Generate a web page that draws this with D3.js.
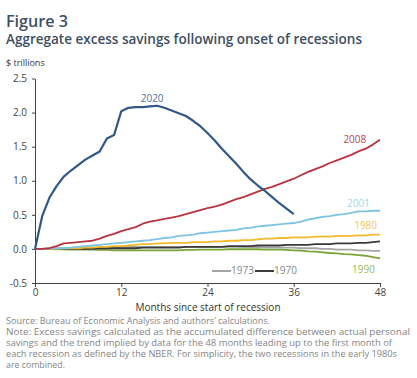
<!DOCTYPE html>
<html><head><meta charset="utf-8">
<script src="https://cdn.jsdelivr.net/npm/d3@7"></script>
<style>
html,body{margin:0;padding:0;background:#fff;}
svg{display:block;}
text{font-family:"Open Sans",Lato,sans-serif;}
</style></head>
<body>
<svg id="chart" width="417" height="378"></svg>
<script>
const months = d3.range(0, 49);
const yTicks = [-0.5, 0, 0.5, 1.0, 1.5, 2.0, 2.5];
const xTicks = [0, 12, 24, 36, 48];

const s2020 = [0,0.48,0.75,0.92,1.06,1.15,1.23,1.31,1.37,1.43,1.62,1.67,2.02,2.07,2.08,2.08,2.09,2.10,2.07,2.03,1.99,1.95,1.88,1.80,1.70,1.59,1.47,1.36,1.25,1.13,1.02,0.93,0.85,0.76,0.67,0.59,0.51];
const s2008 = [0,0,0.01,0.04,0.08,0.09,0.10,0.11,0.12,0.15,0.19,0.22,0.26,0.29,0.32,0.37,0.40,0.42,0.44,0.46,0.48,0.51,0.54,0.57,0.60,0.62,0.65,0.69,0.73,0.76,0.80,0.84,0.88,0.91,0.95,0.99,1.03,1.08,1.13,1.17,1.21,1.26,1.30,1.34,1.38,1.43,1.47,1.53,1.60];
const s2001 = [0,0,0,0.01,0.01,0.02,0.03,0.04,0.05,0.06,0.07,0.08,0.09,0.10,0.11,0.12,0.13,0.145,0.16,0.17,0.19,0.20,0.21,0.23,0.24,0.25,0.26,0.27,0.28,0.30,0.31,0.33,0.34,0.35,0.36,0.37,0.38,0.40,0.43,0.45,0.47,0.48,0.50,0.51,0.53,0.55,0.55,0.56,0.56];
const s1980 = [0,0,0,0,0.01,0.01,0.01,0.02,0.02,0.03,0.03,0.04,0.04,0.05,0.06,0.07,0.07,0.08,0.08,0.09,0.09,0.09,0.10,0.10,0.10,0.11,0.11,0.12,0.12,0.13,0.13,0.14,0.15,0.15,0.16,0.16,0.17,0.17,0.17,0.18,0.18,0.18,0.19,0.19,0.19,0.20,0.20,0.21,0.21];
const s1973 = [0,0,0.01,0.01,0.01,0.01,0.01,0.02,0.02,0.02,0.02,0.02,0.03,0.03,0.03,0.03,0.03,0.03,0.03,0.03,0.03,0.03,0.03,0.03,0.03,0.03,0.03,0.03,0.03,0.025,0.025,0.025,0.02,0.02,0.02,0.02,0.02,0.01,0.01,0.01,0.0,0.0,-0.01,-0.01,-0.01,-0.02,-0.02,-0.03,-0.03];
const s1970 = [0,0,0,0,0,0,0,0,0,0.01,0.01,0.01,0.01,0.01,0.01,0.02,0.02,0.02,0.02,0.02,0.02,0.03,0.03,0.03,0.03,0.03,0.03,0.04,0.04,0.04,0.04,0.05,0.05,0.05,0.05,0.06,0.06,0.06,0.06,0.07,0.07,0.07,0.08,0.08,0.08,0.09,0.09,0.10,0.11];
const s1990 = [0,0,0,-0.005,-0.005,-0.01,-0.01,-0.01,-0.01,-0.015,-0.015,-0.02,-0.02,-0.02,-0.02,-0.02,-0.02,-0.02,-0.02,-0.02,-0.02,-0.015,-0.015,-0.01,-0.01,-0.01,-0.01,-0.005,-0.005,-0.005,-0.005,-0.005,-0.01,-0.01,-0.01,-0.015,-0.02,-0.025,-0.035,-0.04,-0.05,-0.06,-0.065,-0.075,-0.08,-0.09,-0.10,-0.12,-0.14];

const seriesNames = ["1973","1990","1970","1980","2001","2008","2020"];
const seriesValues = [s1973, s1990, s1970, s1980, s2001, s2008, s2020];
const lineColors = {"2020":"#2f5888","2008":"#b8343f","2001":"#7cc4e0","1980":"#f4b92c","1970":"#3a3a3a","1973":"#a5a5a5","1990":"#7aa437"};
const labelColors = {"2020":"#4e729c","2008":"#c04450","2001":"#a3d6ec","1980":"#f4c55a","1990":"#97b959"};

const svg = d3.select("#chart");
const x = d3.scaleLinear().domain([0, 48]).range([35, 380]);
const y = d3.scaleLinear().domain([-0.5, 2.5]).range([283, 78.5]);

function fitText(sel, target) {
  const w = sel.node().getComputedTextLength();
  const fs = parseFloat(sel.attr("font-size"));
  sel.attr("font-size", (fs * target / w).toFixed(2));
}

// Titles
svg.append("text").attr("x", 6).attr("y", 27).attr("font-size", 15).attr("font-weight", 600)
  .attr("fill", "#3e4e64").text("Figure 3").call(s => fitText(s, 62));
svg.append("text").attr("x", 6).attr("y", 44).attr("font-size", 15).attr("font-weight", 600)
  .attr("fill", "#3e4e64").text("Aggregate excess savings following onset of recessions").call(s => fitText(s, 356));
svg.append("text").attr("x", 6).attr("y", 66).attr("font-size", 9).attr("fill", "#333").text("$ trillions");

// Axes
const fmt = v => (v < 0 ? "-" : "") + Math.abs(v).toFixed(1);
const yAxis = svg.append("g").attr("transform", "translate(35,0)")
  .call(d3.axisLeft(y).tickValues(yTicks).tickFormat(fmt).tickSize(3).tickSizeOuter(0).tickPadding(5));
const xAxis = svg.append("g").attr("transform", "translate(0,283)")
  .call(d3.axisBottom(x).tickValues(xTicks).tickFormat(d3.format("d")).tickSize(4).tickSizeOuter(0).tickPadding(2));
[yAxis, xAxis].forEach(a => {
  a.selectAll("path,line").attr("stroke", "#444").attr("stroke-width", 1);
  a.selectAll("text").attr("fill", "#444").attr("font-size", 10).attr("font-family", "\"Open Sans\",sans-serif");
});

svg.append("text").attr("x", 208).attr("y", 311).attr("text-anchor", "middle")
  .attr("font-size", 10).attr("fill", "#333").text("Months since start of recession");

// Lines
const line = d3.line().x((d, i) => x(months[i])).y(d => y(d));
seriesNames.forEach((name, k) => {
  svg.append("path").datum(seriesValues[k]).attr("fill", "none")
    .attr("stroke", lineColors[name]).attr("stroke-width", name === "2020" ? 2.2 : 1.8)
    .attr("stroke-linejoin", "round").attr("d", line);
});

// Direct labels
const labelPos = [
  {name:"2020", m:16.3, v:2.2},
  {name:"2008", m:44.5, v:1.6},
  {name:"2001", m:45.0, v:0.66},
  {name:"1980", m:46.0, v:0.33},
  {name:"1990", m:45.7, v:-0.31}
];
labelPos.forEach(p => {
  svg.append("text").attr("x", x(p.m)).attr("y", y(p.v)).attr("text-anchor", "middle")
    .attr("dominant-baseline", "middle").attr("font-size", 10).attr("fill", labelColors[p.name]).text(p.name);
});

// Legend
const legend = [{name:"1973", x0:212}, {name:"1970", x0:255}];
legend.forEach(l => {
  svg.append("line").attr("x1", l.x0).attr("x2", l.x0 + 19).attr("y1", 271).attr("y2", 271)
    .attr("stroke", lineColors[l.name]).attr("stroke-width", 2);
  svg.append("text").attr("x", l.x0 + 19).attr("y", 271).attr("dominant-baseline", "middle")
    .attr("font-size", 10).attr("fill", "#888").text(l.name);
});

// Footer
const footer = [
  "Source: Bureau of Economic Analysis and authors’ calculations.",
  "Note: Excess savings calculated as the accumulated difference between actual personal",
  "savings and the trend implied by data for the 48 months leading up to the first month of",
  "each recession as defined by the NBER. For simplicity, the two recessions in the early 1980s",
  "are combined."
];
const footerWidths = [264, 404, 386, 391, 59];
footer.forEach((t, i) => {
  const el = svg.append("text").attr("x", 6).attr("y", 324 + i * 11)
    .attr("font-size", 8.6).attr("fill", "#858585").text(t);
  el.attr("textLength", footerWidths[i]).attr("lengthAdjust", "spacingAndGlyphs");
});
</script>
</body></html>
